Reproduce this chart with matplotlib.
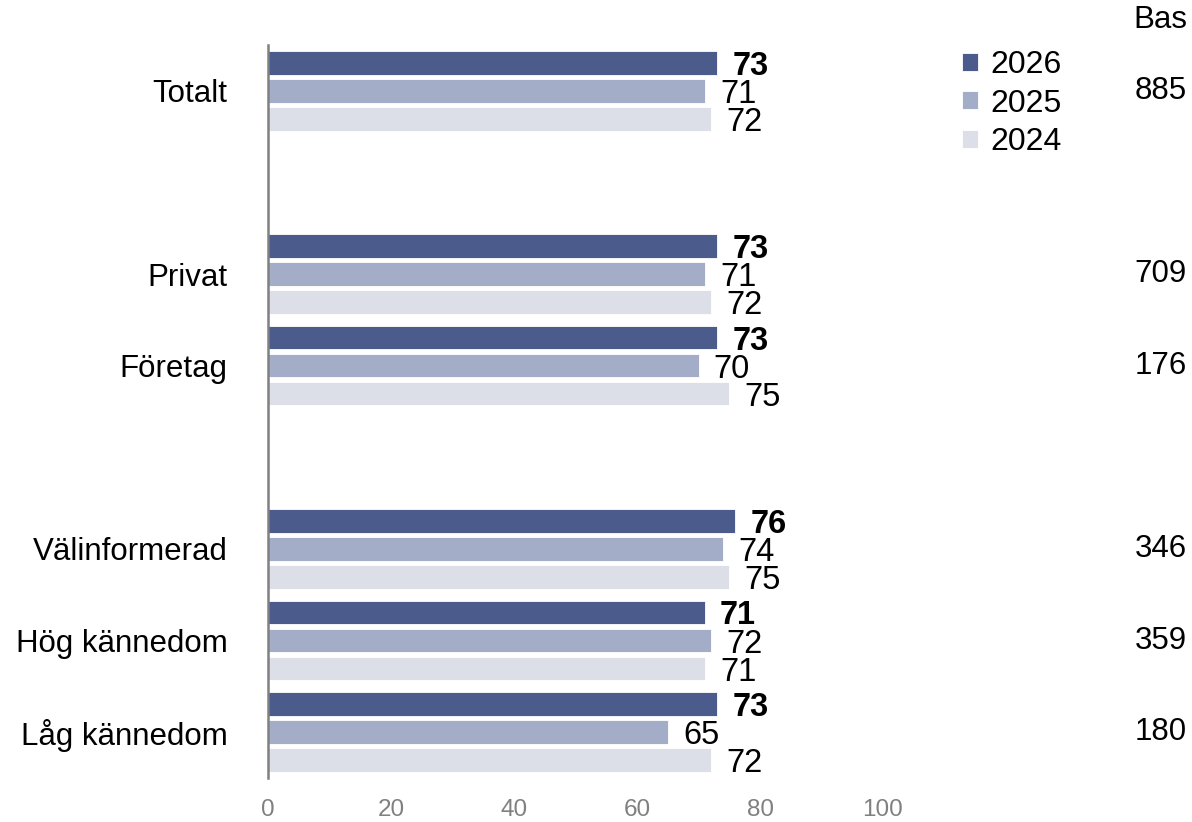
import matplotlib
matplotlib.use('Agg')
import matplotlib.pyplot as plt
import matplotlib.transforms as mtransforms

plt.rcParams['font.family'] = ['Liberation Sans', 'DejaVu Sans']

# data
categories = ['Totalt', 'Privat', 'Företag', 'Välinformerad', 'Hög kännedom', 'Låg kännedom']
slots = [0, 2, 3, 5, 6, 7]  # empty rows between the groups
years = ['2026', '2025', '2024']
values_2026 = [73, 73, 73, 76, 71, 73]
values_2025 = [71, 71, 70, 74, 72, 65]
values_2024 = [72, 72, 75, 75, 71, 72]
bas = [885, 709, 176, 346, 359, 180]

colors = ['#4A5B8C', '#A3ADC8', '#DCDFE8']
series = [values_2026, values_2025, values_2024]

W, H = 1192, 822
fig = plt.figure(figsize=(W / 100, H / 100), dpi=100)
ax = fig.add_axes([268 / W, (H - 778) / H, 615 / W, 733 / H])

pitch = 0.306
height = 0.257
for i, (vals, col, yr) in enumerate(zip(series, colors, years)):
    ypos = [s + (i - 1) * pitch for s in slots]
    ax.barh(ypos, vals, height=height, color=col, edgecolor='white', linewidth=0.6, label=yr)
    for y, v in zip(ypos, vals):
        ax.annotate(str(v), (v, y), xytext=(11, -2.5), textcoords='offset points',
                    ha='left', va='center', fontsize=23.5,
                    fontweight='bold' if i == 0 else 'normal')

ax.set_xlim(0, 100)
ax.set_ylim(7.5, -0.5)
ax.set_xticks([0, 20, 40, 60, 80, 100])
ax.tick_params(axis='x', length=0, pad=15, labelsize=17.5, labelcolor='#808080')
ax.set_yticks(slots)
ax.set_yticklabels(categories, fontsize=22.5)
ax.tick_params(axis='y', length=0, pad=29)
for sp in ['top', 'right', 'bottom']:
    ax.spines[sp].set_visible(False)
ax.spines['left'].set_color('#808080')
ax.spines['left'].set_linewidth(1.8)

# Bas column at the right
trans = mtransforms.blended_transform_factory(fig.transFigure, ax.transData)
fig.text(1187 / W, 1 - 20 / H, 'Bas', ha='right', va='center', fontsize=22.5)
for s, b in zip(slots, bas):
    ax.text(1187 / W, s, str(b), transform=trans, ha='right', va='center', fontsize=22.5)

leg = fig.legend(loc='upper left', bbox_to_anchor=(962 / W, 1 - 50 / H), frameon=False,
                 fontsize=23, handlelength=0.5, handleheight=0.5, handletextpad=0.4,
                 labelspacing=0.27, borderpad=0, borderaxespad=0)

fig.savefig('out.png', dpi=100)
